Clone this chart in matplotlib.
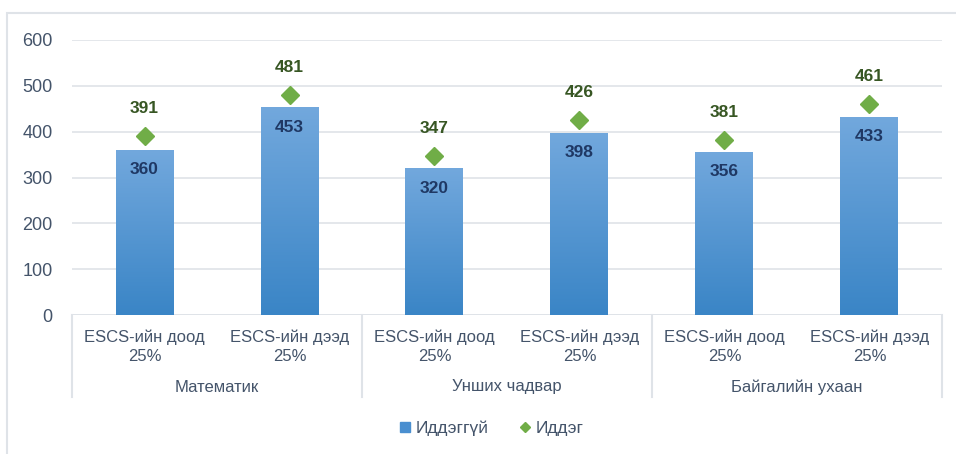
import matplotlib
matplotlib.use("Agg")
import matplotlib.pyplot as plt
import numpy as np
from matplotlib.lines import Line2D
from matplotlib.patches import Rectangle
from matplotlib.colors import LinearSegmentedColormap

plt.rcParams['font.family'] = ['Liberation Sans', 'DejaVu Sans']

categories = ["ESCS-ийн доод\n25%", "ESCS-ийн дээд\n25%"] * 3
groups = ["Математик", "Унших чадвар", "Байгалийн ухаан"]
bar_values = [360, 453, 320, 398, 356, 433]
diamond_values = [391, 481, 347, 426, 381, 461]
series_names = ["Иддэггүй", "Иддэг"]
yticks = [0, 100, 200, 300, 400, 500, 600]

W, H = 956, 454
fig = plt.figure(figsize=(W/100, H/100), dpi=100)
fig.patch.set_facecolor('white')

# outer frame (right and bottom edges fall outside the image)
fig.add_artist(Rectangle((7/W, -10/H), (W + 10)/W, (454 - 13 + 10)/H, transform=fig.transFigure,
                         fill=False, edgecolor='#dfe3e8', linewidth=1.5))

ax = fig.add_axes([72/W, 1 - 315/H, (942 - 72)/W, (315 - 40)/H])
n = len(bar_values)
x = np.arange(n)

text_col = '#44546a'
grid_col = '#dfe3e8'
for s in ax.spines.values():
    s.set_visible(False)
ax.set_yticks(yticks)
ax.set_yticklabels([str(v) for v in yticks], fontsize=13, color=text_col)
ax.tick_params(axis='y', length=0, pad=14)
ax.set_xticks([])
ax.yaxis.grid(True, color=grid_col, linewidth=1.2)
ax.set_axisbelow(True)
ax.axhline(0, color=grid_col, linewidth=1.2)

# gradient bars
bw = 0.4
grad = np.linspace(0, 1, 256).reshape(-1, 1)
cmap = LinearSegmentedColormap.from_list('g', ['#3a85c6', '#72a8dd'])
bars = ax.bar(x, bar_values, width=bw, color='#5b9bd5', zorder=2)
for b in bars:
    x0, y0 = b.get_x(), b.get_y()
    w, h = b.get_width(), b.get_height()
    im = ax.imshow(grad, extent=[x0, x0 + w, y0, y0 + h], origin='lower', aspect='auto',
                   cmap=cmap, zorder=2.1)
    im.set_clip_path(b)
ax.set_xlim(-0.5, n - 0.5)
ax.set_ylim(0, 600)

ax.plot(x, diamond_values, linestyle='none', marker='D', markersize=9, color='#70ad47', zorder=3)

for xi, v in zip(x, bar_values):
    ax.text(xi, v - 43, str(v), ha='center', va='center', fontsize=12.5, fontweight='bold',
            color='#1f3864', zorder=4)
for xi, v in zip(x, diamond_values):
    ax.text(xi, v + 60, str(v), ha='center', va='center', fontsize=12.5, fontweight='bold',
            color='#375623', zorder=4)

# category labels
trans = ax.get_xaxis_transform()
for xi, c in zip(x, categories):
    ax.text(xi, -(347 - 315) / 275, c, transform=trans, ha='center', va='center',
            fontsize=12, color=text_col, linespacing=1.3)
for gi, g in enumerate(groups):
    ax.text(2 * gi + 0.5, -(387 - 315) / 275, g, transform=trans, ha='center', va='center',
            fontsize=12, color=text_col)
for bnd in [-0.5, 1.5, 3.5, 5.5]:
    ax.add_line(Line2D([bnd, bnd], [0, -(397 - 315) / 275], transform=trans, color=grid_col,
                       linewidth=1.5, clip_on=False))

handles = [Line2D([], [], linestyle='none', marker='s', markersize=7.5, color='#4a8fd0'),
           Line2D([], [], linestyle='none', marker='D', markersize=5, color='#70ad47')]
fig.legend(handles, series_names, loc='center', bbox_to_anchor=(490/W, 1 - 428/H), ncol=2,
           frameon=False, fontsize=12.5, labelcolor=text_col, handletextpad=0.1,
           columnspacing=1.6, handlelength=1.0)

fig.savefig('out.png', dpi=100, facecolor='white')
